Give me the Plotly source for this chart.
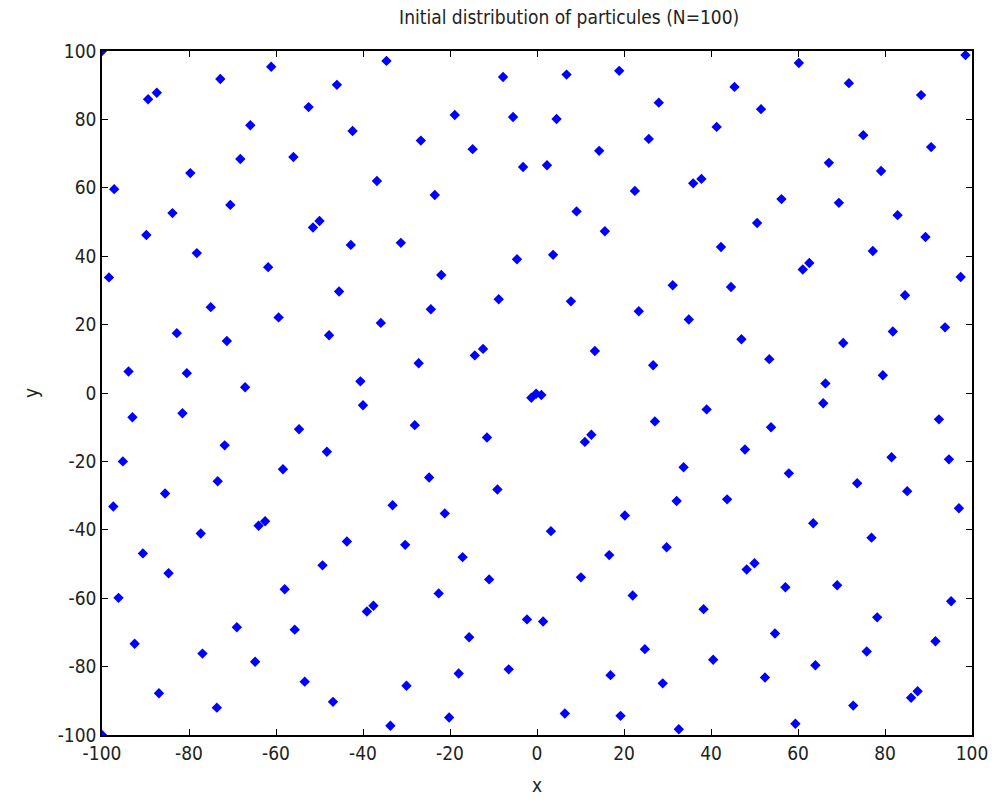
import plotly.graph_objects as go

x_vals = [
    -100.0, -89.4, -87.4, -72.8, -61.1, -34.6, -46.0, -52.5, -65.9, -42.4,
    -68.2, -56.0, -79.7, -36.8, -97.2, -70.5, -83.8, -50.0, -51.5, -89.8,
    -78.2, -42.8, -61.8, -98.4,
    -7.8, 6.8, 18.9, 28.0, -18.9, -5.5, 4.5, -26.7, -14.8, 14.3,
    25.7, -3.2, 2.3, -23.5, 22.5, 9.1, 15.6, -31.3, -4.6, 3.7, -22.0,
    60.2, 98.5, 45.4, 71.7, 88.3, 51.5, 41.3, 75.0, 90.6, 67.1,
    79.1, 35.9, 37.8, 56.2, 69.4, 50.6, 82.9, 42.3, 89.3, 77.2,
    61.1, 62.6, 97.4,
    -45.5, -75.0, -59.4, -35.9, -82.8, -71.3, -47.8, -93.9, -80.5, -67.1,
    -40.6, -40.0, -93.0, -81.5, -54.7, -71.8, -48.3, -95.2, -58.4, -73.4,
    -85.5, -97.4, -33.2,
    -8.8, 7.8, 31.2, -24.4, 23.4, -12.4, -14.3, 13.3, 26.7, -27.2,
    -1.3, -0.2, 1.0, -28.1, -11.5, 11.0, 12.5, 27.1, -24.8, -9.1,
    32.1, 33.7,
    44.6, 84.6, 34.9, 81.8, 93.8, 47.0, 70.4, 53.4, 66.3, 79.5,
    65.8, 39.0, 92.4, 53.8, 47.8, 81.5, 94.7, 57.9, 73.6, 85.1,
    43.7, 97.0,
    -77.3, -64.0, -62.5, -90.6, -43.7, -84.7, -49.3, -58.0, -96.2, -39.1,
    -37.6, -69.0, -55.7, -92.5, -76.9, -64.8, -53.4, -86.9, -46.9, -73.6,
    -33.7, -100.0,
    -21.2, 3.2, 20.2, -30.3, -17.1, 16.6, 29.8, -11.0, 10.1, -22.6,
    22.0, -2.3, 1.4, -15.6, 24.8, -30.0, -18.0, -6.5, 16.9, 28.9,
    -20.2, 6.4, 19.2, 32.6,
    63.5, 76.9, 48.2, 50.0, 57.1, 69.0, 38.3, 95.2, 78.2, 54.7,
    91.6, 40.5, 75.8, 64.0, 52.4, 86.0, 87.5, 72.7, 59.4,
]

y_vals = [
    100.0, 85.9, 87.8, 91.8, 95.4, 97.1, 90.1, 83.6, 78.3, 76.6,
    68.4, 69.0, 64.3, 62.0, 59.6, 55.0, 52.6, 50.3, 48.4, 46.2,
    40.9, 43.3, 36.8, 33.8,
    92.4, 93.1, 94.2, 84.9, 81.3, 80.7, 80.1, 73.8, 71.3, 70.8,
    74.3, 66.1, 66.6, 57.9, 59.1, 53.1, 47.3, 43.9, 39.1, 40.4, 34.5,
    96.5, 98.8, 89.5, 90.6, 87.1, 83.0, 77.8, 75.4, 71.9, 67.3,
    64.9, 61.3, 62.6, 56.7, 55.6, 49.7, 52.0, 42.7, 45.6, 41.5,
    36.1, 38.0, 33.9,
    29.7, 25.1, 22.1, 20.5, 17.5, 15.2, 16.9, 6.3, 5.8, 1.7,
    3.4, -3.6, -7.1, -5.9, -10.6, -15.3, -17.2, -20.0, -22.3, -25.8,
    -29.4, -33.2, -32.8,
    27.4, 26.8, 31.5, 24.5, 23.9, 12.9, 11.0, 12.3, 8.1, 8.7,
    -1.4, -0.2, -0.6, -9.4, -13.0, -14.3, -12.2, -8.3, -24.7, -28.2,
    -31.6, -21.7,
    31.0, 28.6, 21.5, 18.0, 19.2, 15.7, 14.6, 9.9, 2.8, 5.2,
    -3.0, -4.8, -7.7, -10.0, -16.5, -18.8, -19.4, -23.5, -26.4, -28.7,
    -31.1, -33.7,
    -41.1, -38.8, -37.5, -46.9, -43.4, -52.7, -50.4, -57.4, -59.9, -63.9,
    -62.2, -68.5, -69.2, -73.3, -76.2, -78.6, -84.4, -87.8, -90.3, -92.0,
    -97.3, -100.0,
    -35.2, -40.4, -35.8, -44.4, -48.0, -47.4, -45.1, -54.5, -53.9, -58.6,
    -59.2, -66.2, -66.8, -71.4, -74.9, -85.6, -82.0, -80.8, -82.5, -84.9,
    -94.9, -93.7, -94.4, -98.3,
    -38.1, -42.3, -51.6, -49.8, -56.8, -56.2, -63.2, -60.9, -65.6, -70.3,
    -72.6, -78.0, -75.6, -79.6, -83.2, -89.1, -87.2, -91.4, -96.7,
]

tick_vals = [-100, -80, -60, -40, -20, 0, 20, 40, 60, 80, 100]
tick_text = [str(v) for v in tick_vals]

title_text = "Initial distribution of particules (N=100)"
x_label = "x"
y_label = "y"

font_family = "DejaVu Sans Condensed, Liberation Sans Narrow, Arial, sans-serif"

fig = go.Figure()
fig.add_trace(go.Scatter(
    x=x_vals, y=y_vals, mode="markers",
    marker=dict(symbol="diamond", size=8, color="#0000ff",
                line=dict(width=0)),
    showlegend=False,
))

axis_common = dict(
    showline=True, linecolor="black", linewidth=1.5, mirror="ticks",
    ticks="inside", ticklen=6, tickwidth=1.2, tickcolor="black",
    showgrid=False, zeroline=False,
    tickvals=tick_vals, ticktext=tick_text,
    tickfont=dict(family=font_family, size=19, color="#222"),
)

fig.update_layout(
    width=1000, height=809,
    margin=dict(l=102, r=28, t=51, b=74),
    paper_bgcolor="white", plot_bgcolor="white",
    title=dict(text=title_text, x=0.537, xref="paper", xanchor="center",
               y=0.978, yref="container", yanchor="middle",
               font=dict(family=font_family, size=19, color="#222")),
    xaxis=dict(range=[-100, 100], title=dict(text=x_label, standoff=16,
               font=dict(family=font_family, size=19, color="#222")),
               **axis_common),
    yaxis=dict(range=[-100, 100], title=dict(text=y_label, standoff=14,
               font=dict(family=font_family, size=19, color="#222")),
               **axis_common),
)

fig.write_html("out.html")
